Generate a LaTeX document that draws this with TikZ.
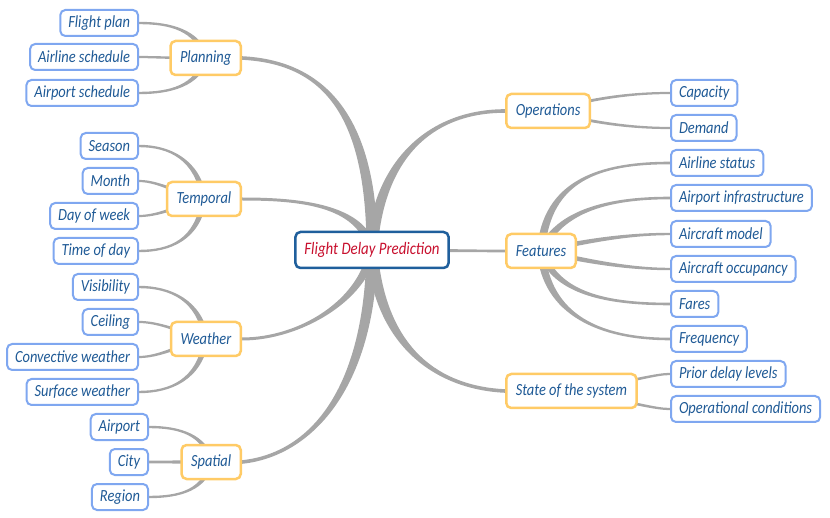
\documentclass[tikz,border=0pt]{standalone}
\usepackage{fontspec}
\setmainfont{Carlito}[FakeStretch=0.85]
\usetikzlibrary{calc}
\pgfdeclarelayer{bg}
\pgfsetlayers{bg,main}
\definecolor{leafc}{HTML}{7FA7F0}
\definecolor{midc}{HTML}{FFCB66}
\definecolor{rootc}{HTML}{1F5F9C}
\definecolor{txtc}{HTML}{1F5A96}
\definecolor{redt}{HTML}{C8102E}
\definecolor{connc}{HTML}{A6A6A6}
\newcommand\branch[6]{%
  \path #1 coordinate (b0) #2 coordinate (b1) #3 coordinate (b2) #4 coordinate (b3);
  \path ($(b0)!#5!90:(b1)$) coordinate (b0l) ($(b0)!#5!-90:(b1)$) coordinate (b0r)
        ($(b3)!#6!-90:(b2)$) coordinate (b3l) ($(b3)!#6!90:(b2)$) coordinate (b3r);
  \fill[connc] (b0l) .. controls ($(b1)+(b0l)-(b0)$) and ($(b2)+(b3l)-(b3)$) .. (b3l)
    -- (b3r) .. controls ($(b2)+(b3r)-(b3)$) and ($(b1)+(b0r)-(b0)$) .. (b0r) -- cycle;
}
\begin{document}
\begin{tikzpicture}[x=1pt,y=-1pt,
  leaf/.style={draw=leafc, line width=2pt, fill=white, rounded corners=5pt,
    inner xsep=8pt, inner ysep=0pt, minimum height=26pt, text=txtc,
    font=\fontsize{17}{19}\selectfont\itshape},
  mid/.style={leaf, draw=midc, line width=2.5pt, minimum height=34pt, inner xsep=9.5pt},
  rootn/.style={leaf, draw=rootc, line width=2.5pt, minimum height=36pt, inner xsep=9pt,
    text=redt, font=\fontsize{17.5}{19}\selectfont\itshape}]
\useasboundingbox (0,0) rectangle (830,518);
% root
\node[rootn] (root) at (372,250) {Flight Delay Prediction};
% level 1
\node[mid, anchor=east] (plan) at (242,58) {Planning};
\node[mid, anchor=east] (temp) at (242,199) {Temporal};
\node[mid, anchor=east] (wea) at (242,339) {Weather};
\node[mid, anchor=east] (spa) at (242,462) {Spatial};
\node[mid, anchor=west] (ops) at (505,111) {Operations};
\node[mid, anchor=west] (feat) at (505,251) {Features};
\node[mid, anchor=west] (sts) at (505,391) {State of the system};
% left leaves
\node[leaf, anchor=east] (fp) at (139,23) {Flight plan};
\node[leaf, anchor=east] (als) at (139,57) {Airline schedule};
\node[leaf, anchor=east] (aps) at (139,93) {Airport schedule};
\node[leaf, anchor=east] (sea) at (139,146) {Season};
\node[leaf, anchor=east] (mon) at (139,181) {Month};
\node[leaf, anchor=east] (dow) at (139,216) {Day of week};
\node[leaf, anchor=east] (tod) at (139,251) {Time of day};
\node[leaf, anchor=east] (vis) at (139,287) {Visibility};
\node[leaf, anchor=east] (cei) at (139,322) {Ceiling};
\node[leaf, anchor=east] (cvw) at (139,357) {Convective weather};
\node[leaf, anchor=east] (srw) at (139,392) {Surface weather};
\node[leaf, anchor=east] (apt) at (149,427) {Airport};
\node[leaf, anchor=east] (city) at (149,462) {City};
\node[leaf, anchor=east] (reg) at (149,497) {Region};
% right leaves
\node[leaf, anchor=west] (cap) at (670,93) {Capacity};
\node[leaf, anchor=west] (dem) at (670,128) {Demand};
\node[leaf, anchor=west] (ast) at (670,163) {Airline status};
\node[leaf, anchor=west] (ainf) at (670,198) {Airport infrastructure};
\node[leaf, anchor=west] (amod) at (670,234) {Aircraft model};
\node[leaf, anchor=west] (aocc) at (670,269) {Aircraft occupancy};
\node[leaf, anchor=west] (fare) at (670,304) {Fares};
\node[leaf, anchor=west] (freq) at (670,339) {Frequency};
\node[leaf, anchor=west] (pdl) at (670,374) {Prior delay levels};
\node[leaf, anchor=west] (opc) at (670,409) {Operational conditions};
\begin{pgfonlayer}{bg}
% root branches
\branch{(root.center)}{(372,110)}{(320,62)}{(plan.east)}{5.5pt}{1.8pt}
\branch{(root.center)}{(362,205)}{(300,199)}{(temp.east)}{4.5pt}{1.5pt}
\branch{(root.center)}{(364,300)}{(300,339)}{(wea.east)}{4.5pt}{1.5pt}
\branch{(root.center)}{(370,390)}{(310,455)}{(spa.east)}{5.5pt}{1.8pt}
\branch{(root.center)}{(378,160)}{(430,111)}{(ops.west)}{5.5pt}{1.8pt}
\branch{(root.center)}{(420,250)}{(470,251)}{(feat.west)}{1.6pt}{1.3pt}
\branch{(root.center)}{(380,350)}{(440,388)}{(sts.west)}{5.5pt}{1.8pt}
% planning
\branch{(plan.center)}{(198,30)}{(170,23)}{(fp.east)}{2.8pt}{1.2pt}
\branch{(plan.center)}{(170,58)}{(150,57)}{(als.east)}{1.3pt}{1.1pt}
\branch{(plan.center)}{(198,86)}{(170,93)}{(aps.east)}{2.8pt}{1.2pt}
% temporal
\branch{(temp.center)}{(198,160)}{(170,146)}{(sea.east)}{2.8pt}{1.2pt}
\branch{(temp.center)}{(180,195)}{(160,181)}{(mon.east)}{2pt}{1.1pt}
\branch{(temp.center)}{(180,205)}{(160,216)}{(dow.east)}{2pt}{1.1pt}
\branch{(temp.center)}{(198,240)}{(170,251)}{(tod.east)}{2.8pt}{1.2pt}
% weather
\branch{(wea.center)}{(200,300)}{(170,287)}{(vis.east)}{2.8pt}{1.2pt}
\branch{(wea.center)}{(180,332)}{(160,322)}{(cei.east)}{1.6pt}{1.1pt}
\branch{(wea.center)}{(180,345)}{(160,357)}{(cvw.east)}{2pt}{1.1pt}
\branch{(wea.center)}{(200,380)}{(170,392)}{(srw.east)}{2.8pt}{1.2pt}
% spatial
\branch{(spa.center)}{(205,435)}{(180,427)}{(apt.east)}{2.5pt}{1.2pt}
\branch{(spa.center)}{(180,462)}{(160,462)}{(city.east)}{1.6pt}{1.4pt}
\branch{(spa.center)}{(205,490)}{(180,497)}{(reg.east)}{2.5pt}{1.2pt}
% operations
\branch{(ops.center)}{(600,96)}{(640,93)}{(cap.west)}{1.5pt}{1.1pt}
\branch{(ops.center)}{(600,125)}{(640,128)}{(dem.west)}{1.5pt}{1.1pt}
% features
\branch{(feat.center)}{(546,180)}{(600,163)}{(ast.west)}{4pt}{1.3pt}
\branch{(feat.center)}{(560,210)}{(610,198)}{(ainf.west)}{3.5pt}{1.3pt}
\branch{(feat.center)}{(590,240)}{(630,234)}{(amod.west)}{2.5pt}{1.2pt}
\branch{(feat.center)}{(590,262)}{(630,269)}{(aocc.west)}{2.5pt}{1.2pt}
\branch{(feat.center)}{(556,295)}{(610,304)}{(fare.west)}{3.5pt}{1.3pt}
\branch{(feat.center)}{(546,315)}{(600,339)}{(freq.west)}{4pt}{1.3pt}
% state
\branch{(sts.center)}{(640,380)}{(655,374)}{(pdl.west)}{1.5pt}{1.1pt}
\branch{(sts.center)}{(640,404)}{(655,409)}{(opc.west)}{1.5pt}{1.1pt}
\end{pgfonlayer}
\end{tikzpicture}
\end{document}
